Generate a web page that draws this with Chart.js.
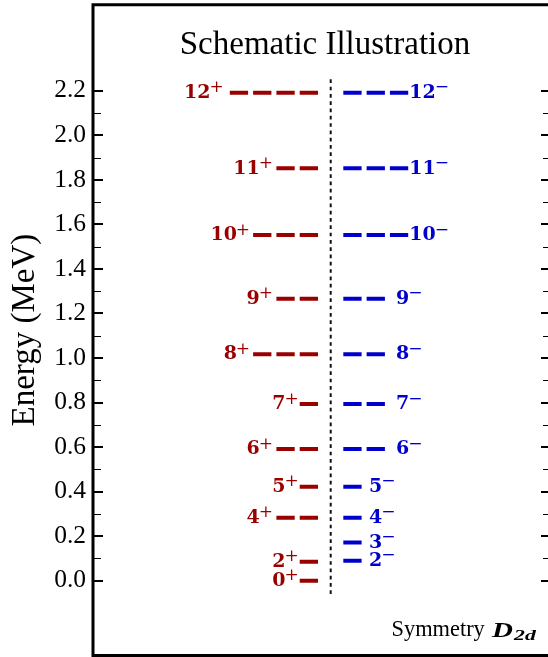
<!DOCTYPE html>
<html>
<head>
<meta charset="utf-8">
<script src="https://cdn.jsdelivr.net/npm/chart.js@4/dist/chart.umd.min.js"></script>
<style>
  html, body { margin: 0; padding: 0; background: #fff; overflow: hidden; width: 548px; height: 657px; }
  canvas { display: block; }
</style>
</head>
<body>
<canvas id="c" width="556" height="657"></canvas>
<script>
// ---- data ----
const posSpins    = [0, 2, 4, 5, 6, 7, 8, 9, 10, 11, 12];
const posEnergies = [0.000, 0.085, 0.283, 0.422, 0.591, 0.793, 1.017, 1.266, 1.552, 1.852, 2.191];
const posWidths   = [1, 1, 2, 1, 2, 1, 3, 2, 3, 2, 4];   // level bar length (in dash units)
const negSpins    = [2, 3, 4, 5, 6, 7, 8, 9, 10, 11, 12];
const negEnergies = [0.090, 0.171, 0.283, 0.422, 0.591, 0.793, 1.017, 1.266, 1.552, 1.852, 2.191];
const negWidths   = [1, 1, 1, 1, 2, 2, 2, 2, 3, 3, 3];
const majorTicks  = [0.0, 0.2, 0.4, 0.6, 0.8, 1.0, 1.2, 1.4, 1.6, 1.8, 2.0, 2.2];
const minorTicks  = [0.1, 0.3, 0.5, 0.7, 0.9, 1.1, 1.3, 1.5, 1.7, 1.9, 2.1];
const dividerSpan = [-0.06, 2.256];
const titleText   = 'Schematic Illustration';
const yTitleText  = 'Energy (MeV)';

// ---- styles ----
const RED = '#990000', BLUE = '#0000cc';
const GAP = 0.2146;            // dash gap as fraction of a dash period
const RED_END = -0.545, BLUE_START = 0.541;
const redLabelGap  = {1: 1, 2: 3.5, 3: 3, 4: 6};
const blueLabelGap = {1: 7.5, 2: 11, 3: 1};
const MAIN_FONT = 'bold 19px "DejaVu Serif"';
const SUP_FONT  = '17px "DejaVu Serif"';

const datasets = [];
posEnergies.forEach((e, i) => {
  datasets.push({
    data: [{x: RED_END, y: e}, {x: RED_END - (posWidths[i] - GAP), y: e}],
    borderColor: RED, borderWidth: 4, borderDash: [18.3, 5], pointRadius: 0, fill: false
  });
});
negEnergies.forEach((e, i) => {
  datasets.push({
    data: [{x: BLUE_START, y: e}, {x: BLUE_START + (negWidths[i] - GAP), y: e}],
    borderColor: BLUE, borderWidth: 4, borderDash: [18.3, 5], pointRadius: 0, fill: false
  });
});
datasets.push({
  data: [{x: 0, y: dividerSpan[0]}, {x: 0, y: dividerSpan[1]}],
  borderColor: '#111', borderWidth: 2, borderDash: [3.7, 3.6], pointRadius: 0, fill: false
});

function drawLevelLabel(ctx, spin, sign, xEdge, py, align, color) {
  const main = String(spin);
  ctx.font = MAIN_FONT;
  const wMain = ctx.measureText(main).width;
  ctx.font = SUP_FONT;
  const wSup = ctx.measureText(sign).width - 1;
  const x0 = align === 'right' ? xEdge - wMain - wSup : xEdge;
  ctx.fillStyle = color;
  ctx.textAlign = 'left';
  ctx.textBaseline = 'alphabetic';
  ctx.font = MAIN_FONT;
  ctx.fillText(main, x0, py + 5.3);
  ctx.font = SUP_FONT;
  ctx.fillText(sign, x0 + wMain - 1, py - 0.3);
}

const decor = {
  id: 'decor',
  afterDraw(chart) {
    const {ctx, chartArea: a, scales: {x, y}} = chart;
    ctx.save();
    // frame
    ctx.strokeStyle = '#000';
    ctx.lineWidth = 3;
    ctx.strokeRect(a.left, a.top, a.right - a.left, a.bottom - a.top);
    // inward ticks on both sides
    const tick = (v, len, w) => {
      const py = Math.round(y.getPixelForValue(v)) + (w % 2 ? 0.5 : 0);
      ctx.lineWidth = w;
      ctx.beginPath();
      ctx.moveTo(a.left, py); ctx.lineTo(a.left + len, py);
      ctx.moveTo(a.right, py); ctx.lineTo(a.right - len, py);
      ctx.stroke();
    };
    majorTicks.forEach(v => tick(v, 10, 2));
    minorTicks.forEach(v => tick(v, 8, 1));
    // title inside the frame
    ctx.fillStyle = '#000';
    ctx.textAlign = 'center';
    ctx.textBaseline = 'alphabetic';
    ctx.font = '33px "Liberation Serif"';
    ctx.fillText(titleText, 325, 53.5);
    // level labels
    posSpins.forEach((s, i) => {
      const xs = x.getPixelForValue(RED_END - (posWidths[i] - GAP));
      drawLevelLabel(ctx, s, '+', xs - redLabelGap[posWidths[i]], y.getPixelForValue(posEnergies[i]), 'right', RED);
    });
    negSpins.forEach((s, i) => {
      const xe = x.getPixelForValue(BLUE_START + (negWidths[i] - GAP));
      drawLevelLabel(ctx, s, '\u2212', xe + blueLabelGap[negWidths[i]], y.getPixelForValue(negEnergies[i]), 'left', BLUE);
    });
    // symmetry note
    ctx.fillStyle = '#000';
    ctx.textAlign = 'left';
    ctx.font = '22.4px "Liberation Serif"';
    ctx.fillText('Symmetry', 391.5, 635.5);
    ctx.font = 'italic bold 20px "Liberation Serif"';
    ctx.save();
    ctx.translate(492, 636.5);
    ctx.scale(1.45, 1);
    ctx.fillText('D', 0, 0);
    ctx.restore();
    ctx.font = 'italic bold 15px "Liberation Serif"';
    ctx.save();
    ctx.translate(514, 640);
    ctx.scale(1.45, 1);
    ctx.fillText('2d', 0, 0);
    ctx.restore();
    ctx.restore();
  }
};

new Chart(document.getElementById('c'), {
  type: 'line',
  data: { datasets },
  options: {
    responsive: false,
    animation: false,
    events: [],
    layout: { padding: { left: 0, right: 5, top: 4.75, bottom: 1.5 } },
    plugins: { legend: { display: false }, tooltip: { enabled: false }, title: { display: false } },
    scales: {
      x: { type: 'linear', display: false, min: -10.202, max: 9.455 },
      y: {
        type: 'linear',
        min: -0.336, max: 2.586,
        afterFit(scale) {
          scale.width = 93;
          scale.paddingTop = 0; scale.paddingBottom = 0;
        },
        afterBuildTicks(scale) { scale.ticks = majorTicks.map(v => ({ value: v })); },
        grid: { display: false, drawTicks: false },
        border: { display: false },
        ticks: {
          padding: 7,
          color: '#000',
          font: { family: 'Liberation Serif', size: 25.5 },
          callback: v => Number(v).toFixed(1)
        },
        title: {
          display: true,
          text: yTitleText,
          color: '#000',
          font: { family: 'Liberation Serif', size: 33 },
          padding: { top: 6, bottom: 0 }
        }
      }
    }
  },
  plugins: [decor]
});
</script>
</body>
</html>
